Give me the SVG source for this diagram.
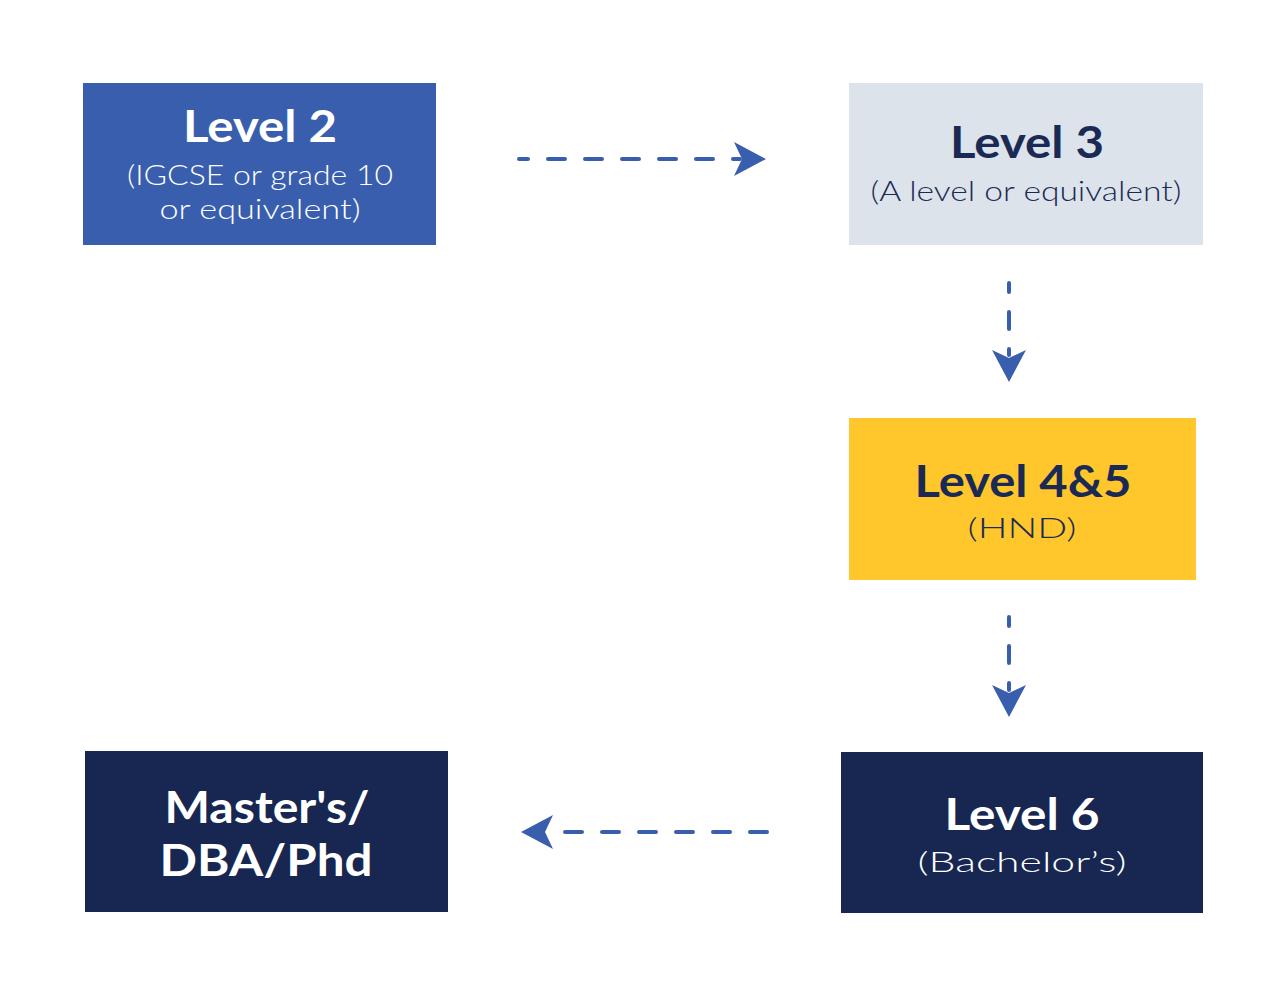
<svg xmlns="http://www.w3.org/2000/svg" width="1288" height="998" viewBox="0 0 1288 998">
<defs>
<style>
.t{font-family:Lato,"Open Sans","Liberation Sans",sans-serif;font-weight:700;font-size:44px;text-anchor:middle}
.s{font-family:Lato,"Open Sans","Liberation Sans",sans-serif;font-weight:300;font-size:28px;text-anchor:middle}
.w{fill:#ffffff}
.d{fill:#1b2a55}
.c{fill:none;stroke:#3a5eae;stroke-width:4;stroke-linecap:round;stroke-dasharray:17 20}
.h{fill:#3a5eae}
</style>
</defs>
<rect width="1288" height="998" fill="#ffffff"/>
<g id="level2">
<rect x="83" y="83" width="353" height="162" fill="#3a5eae"/>
<text class="t w" x="260" y="142" textLength="154" lengthAdjust="spacingAndGlyphs">Level 2</text>
<text class="s w" x="260" y="185" textLength="266" lengthAdjust="spacingAndGlyphs">(IGCSE or grade 10</text>
<text class="s w" x="260" y="219" textLength="201" lengthAdjust="spacingAndGlyphs">or equivalent)</text>
</g>
<g id="level3">
<rect x="849" y="83" width="354" height="162" fill="#dce3eb"/>
<text class="t d" x="1027" y="158" textLength="154" lengthAdjust="spacingAndGlyphs">Level 3</text>
<text class="s d" x="1026" y="201" textLength="311" lengthAdjust="spacingAndGlyphs">(A level or equivalent)</text>
</g>
<g id="level45">
<rect x="849" y="418" width="347" height="162" fill="#ffc72c"/>
<text class="t d" x="1023" y="497" textLength="217" lengthAdjust="spacingAndGlyphs">Level 4&amp;5</text>
<text class="s d" x="1022" y="538" textLength="109" lengthAdjust="spacingAndGlyphs">(HND)</text>
</g>
<g id="level6">
<rect x="841" y="752" width="362" height="161" fill="#172752"/>
<text class="t w" x="1022" y="830" textLength="155" lengthAdjust="spacingAndGlyphs">Level 6</text>
<text class="s w" x="1022" y="872" textLength="209" lengthAdjust="spacingAndGlyphs">(Bachelor’s)</text>
</g>
<g id="masters">
<rect x="85" y="751" width="363" height="161" fill="#172752"/>
<text class="t w" x="267" y="823" textLength="205" lengthAdjust="spacingAndGlyphs">Master's/</text>
<text class="t w" x="266" y="876" textLength="213" lengthAdjust="spacingAndGlyphs">DBA/Phd</text>
</g>
<g id="connectors">
<path class="c" d="M519 159 H740" stroke-dashoffset="8"/>
<path class="h" d="M766 159 L734 142 L742 159 L734 176 Z"/>
<path class="c" d="M1009 283 V355" stroke-dashoffset="8"/>
<path class="h" d="M1009 382 L992 350 L1009 358 L1026 350 Z"/>
<path class="c" d="M1009 617 V690" stroke-dashoffset="8"/>
<path class="h" d="M1009 717 L992 685 L1009 693 L1026 685 Z"/>
<path class="c" d="M767 832 H546" stroke-dashoffset="0"/>
<path class="h" d="M521 832 L553 815 L545 832 L553 849 Z"/>
</g>
</svg>
